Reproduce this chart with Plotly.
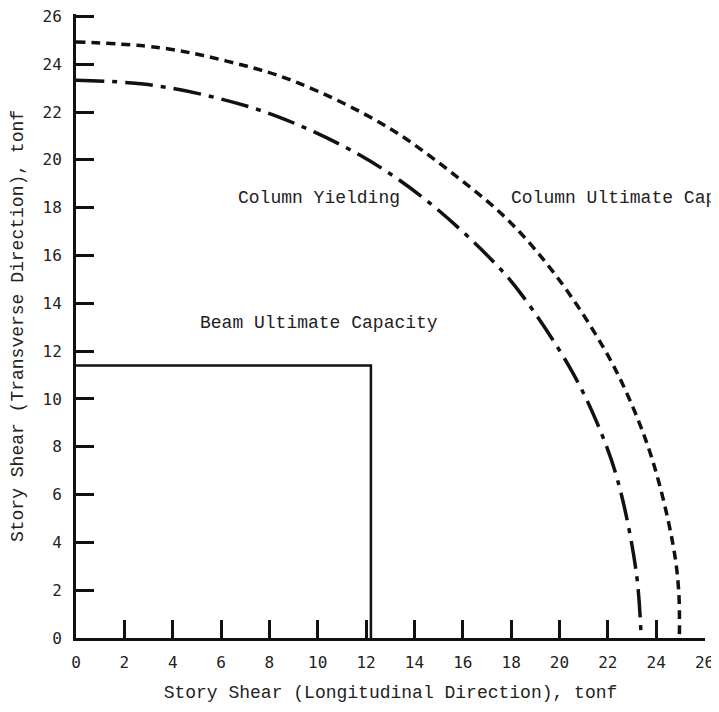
import plotly.graph_objects as go

# Column Ultimate Capacity (dashed)
ult_x = [0.0, 3.47, 6.23, 8.98, 12.84, 15.87, 17.93, 19.9, 21.79, 22.89, 23.86, 24.68, 24.93, 24.96]
ult_y = [24.93, 24.69, 24.13, 23.3, 21.4, 19.2, 17.42, 15.1, 12.2, 10.0, 7.4, 4.0, 2.0, 0.0]

# Column Yielding (dash-dot)
yld_x = [0.0, 2.78, 5.54, 8.29, 11.74, 14.49, 17.24, 18.48, 20.41, 21.52, 22.4, 23.17, 23.38]
yld_y = [23.33, 23.17, 22.66, 21.83, 20.2, 18.31, 15.77, 14.3, 11.34, 9.08, 6.62, 2.8, 0.0]

# Beam Ultimate Capacity (solid)
beam_x = [0.0, 12.2, 12.2]
beam_y = [11.4, 11.4, 0.0]

tick_vals = list(range(0, 27, 2))
tick_text = [str(v) for v in tick_vals]

labels = ["Column Yielding", "Column Ultimate Capacity", "Beam Ultimate Capacity"]
label_x = [6.6, 17.9, 5.04]
label_y = [18.4, 18.4, 13.17]

ink = "#111111"
mono = "Liberation Mono"

fig = go.Figure()
fig.add_trace(go.Scatter(x=ult_x, y=ult_y, mode="lines", line_shape="spline",
                         line=dict(color=ink, width=3.5, dash="9px,6px"),
                         hoverinfo="skip", showlegend=False, cliponaxis=False))
fig.add_trace(go.Scatter(x=yld_x, y=yld_y, mode="lines", line_shape="spline",
                         line=dict(color=ink, width=3.5, dash="28px,8px,5px,8px"),
                         hoverinfo="skip", showlegend=False, cliponaxis=False))
fig.add_trace(go.Scatter(x=beam_x, y=beam_y, mode="lines",
                         line=dict(color=ink, width=2.5),
                         hoverinfo="skip", showlegend=False, cliponaxis=False))

for t, x, y in zip(labels, label_x, label_y):
    fig.add_annotation(x=x, y=y, text=t, showarrow=False, xanchor="left", yanchor="middle",
                       font=dict(family=mono, size=18, color="#222222"))

axis_common = dict(
    showgrid=False, zeroline=False, showline=True, linecolor=ink, linewidth=3,
    ticks="inside", ticklen=18, tickwidth=2.5, tickcolor=ink,
    tickmode="array", tickvals=tick_vals, ticktext=tick_text,
    tickfont=dict(family="DejaVu Sans Mono", size=16, color="#222222"),
    fixedrange=True, automargin=False, ticklabeloverflow="allow",
)

fig.update_layout(
    width=711, height=704,
    margin=dict(l=68, r=14, t=6, b=74),
    paper_bgcolor="white", plot_bgcolor="white",
    xaxis=dict(**axis_common, range=[0, 26.02],
               title=dict(text="Story Shear (Longitudinal Direction), tonf",
                          font=dict(family=mono, size=18, color="#222222"), standoff=15),
               ticklabelstandoff=8),
    yaxis=dict(**axis_common, range=[0, 26.1],
               title=dict(text="Story Shear (Transverse Direction), tonf",
                          font=dict(family=mono, size=18, color="#222222"), standoff=16),
               ticklabelstandoff=8),
)

fig.write_html("out.html")
